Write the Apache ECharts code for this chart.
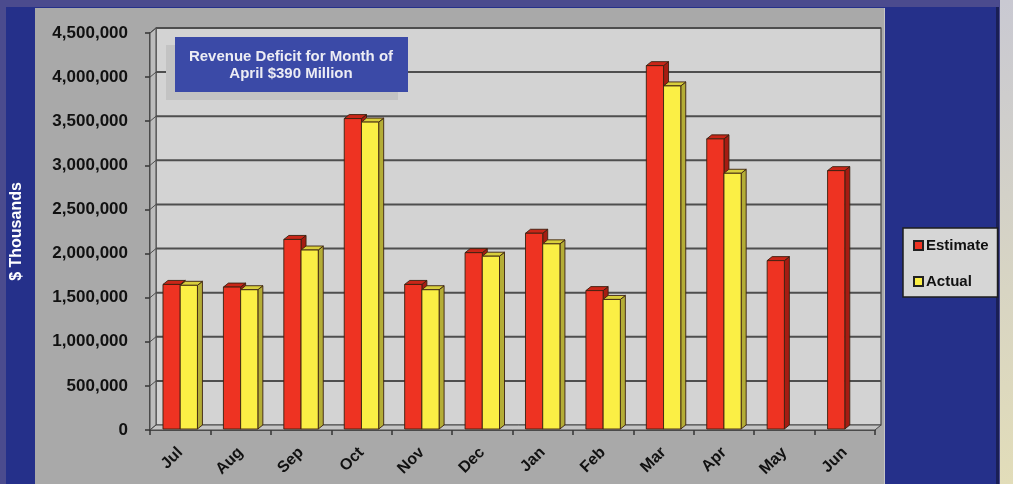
<!DOCTYPE html>
<html>
<head>
<meta charset="utf-8">
<title>Revenue Estimate vs Actual</title>
<script src="https://cdn.jsdelivr.net/npm/echarts@6/dist/echarts.min.js"></script>
<style>
  html, body { margin: 0; padding: 0; background: #4b4b8e; }
  #frame { position: absolute; left: 6px; top: 7px; width: 990px; height: 477px; background: #25308a; border-right: 3px solid #1a1f55; }
  #edge { position: absolute; left: 1000px; top: 0; width: 13px; height: 484px; background: linear-gradient(#c9c9d2, #e2ddb9); }
  #panel { position: absolute; left: 35px; top: 8px; width: 849px; height: 476px; background: #a9a9a9; border-right: 1px solid #c6c6c6; }
  #chart { position: absolute; left: 0; top: 0; width: 1013px; height: 484px; }
</style>
</head>
<body>
<div id="frame"></div>
<div id="edge"></div>
<div id="panel"></div>
<div id="chart"></div>
<script>
// Monthly revenue, $ thousands
const months = ['Jul', 'Aug', 'Sep', 'Oct', 'Nov', 'Dec', 'Jan', 'Feb', 'Mar', 'Apr', 'May', 'Jun'];
const estimate = [1650000, 1620000, 2160000, 3530000, 1650000, 2010000, 2230000, 1580000, 4130000, 3300000, 1920000, 2940000];
const actual = [1640000, 1590000, 2040000, 3490000, 1590000, 1970000, 2110000, 1480000, 3900000, 2910000, null, null];
const yTicks = [0, 500000, 1000000, 1500000, 2000000, 2500000, 3000000, 3500000, 4000000, 4500000];
const noteLines = ['Revenue Deficit for Month of', 'April $390 Million'];

const FONT = '"Liberation Sans", Arial, sans-serif';
const WALL_DX = 6, WALL_DY = -5;   // depth of the back wall
const BAR_DX = 5, BAR_DY = -4;     // depth of each column

const chart = echarts.init(document.getElementById('chart'));

// Back wall, floor, side wall and gridlines of the 3-D plot box
function renderWall(params, api) {
  const cs = params.coordSys;
  const x0 = cs.x, x1 = cs.x + cs.width;
  const yb = api.coord([0, 0])[1];
  const yt = api.coord([0, yTicks[yTicks.length - 1]])[1];
  const children = [
    { type: 'rect', shape: { x: x0 + WALL_DX, y: yt + WALL_DY, width: x1 - x0, height: yb - yt },
      style: { fill: '#d3d3d3', stroke: '#444', lineWidth: 1.2 } },
    { type: 'polygon', shape: { points: [[x0, yb], [x0, yt], [x0 + WALL_DX, yt + WALL_DY], [x0 + WALL_DX, yb + WALL_DY]] },
      style: { fill: '#bcbcbc', stroke: '#444', lineWidth: 1 } },
    { type: 'polygon', shape: { points: [[x0, yb], [x1, yb], [x1 + WALL_DX, yb + WALL_DY], [x0 + WALL_DX, yb + WALL_DY]] },
      style: { fill: '#c4c4c4', stroke: '#444', lineWidth: 1 } }
  ];
  yTicks.forEach(function (t) {
    if (t === 0) return;
    const y = api.coord([0, t])[1];
    children.push({ type: 'line', shape: { x1: x0 + WALL_DX, y1: y + WALL_DY, x2: x1 + WALL_DX, y2: y + WALL_DY },
      style: { stroke: '#4e4e4e', lineWidth: 2 } });
    children.push({ type: 'line', shape: { x1: x0, y1: y, x2: x0 + WALL_DX, y2: y + WALL_DY },
      style: { stroke: '#4e4e4e', lineWidth: 1 } });
  });
  return { type: 'group', children: children };
}

function makeColumn(front, top, side, leftOfCenter) {
  return function (params, api) {
    const i = api.value(0), v = api.value(1);
    const base = api.coord([i, 0]);
    const tip = api.coord([i, v]);
    const band = api.size([1, 0])[0];
    const w = band * 0.285;
    const x0 = leftOfCenter ? base[0] - w : base[0];
    const yT = tip[1], yB = base[1] - 1;
    const edge = { stroke: '#3a2010', lineWidth: 0.9 };
    return {
      type: 'group',
      children: [
        { type: 'polygon', shape: { points: [[x0 + w, yT], [x0 + w + BAR_DX, yT + BAR_DY], [x0 + w + BAR_DX, yB + BAR_DY], [x0 + w, yB]] },
          style: Object.assign({ fill: side }, edge) },
        { type: 'polygon', shape: { points: [[x0, yT], [x0 + w, yT], [x0 + w + BAR_DX, yT + BAR_DY], [x0 + BAR_DX, yT + BAR_DY]] },
          style: Object.assign({ fill: top }, edge) },
        { type: 'rect', shape: { x: x0, y: yT, width: w, height: yB - yT },
          style: Object.assign({ fill: front }, edge) }
      ]
    };
  };
}

function pairs(arr) {
  const out = [];
  arr.forEach(function (v, i) { if (v !== null) out.push([i, v]); });
  return out;
}

chart.setOption({
  animation: false,
  textStyle: { fontFamily: FONT },
  grid: { left: 150, right: 138, top: 33, bottom: 54, containLabel: false, outerBoundsMode: 'none' },
  legend: {
    data: ['Estimate', 'Actual'],
    orient: 'vertical',
    left: 903, top: 228,
    backgroundColor: '#d6d6d6',
    borderColor: '#1e1e1e', borderWidth: 1.5, borderRadius: 0,
    padding: [10, 9, 8, 10],
    itemGap: 21,
    itemWidth: 9, itemHeight: 9,
    icon: 'rect',
    textStyle: { fontFamily: FONT, fontWeight: 'bold', fontSize: 15, color: '#111', padding: [0, 0, 0, -2] }
  },
  xAxis: {
    type: 'category',
    data: months,
    axisLine: { show: true, lineStyle: { color: '#333', width: 1.5 } },
    axisTick: { show: true, length: 5, lineStyle: { color: '#333', width: 1.5 } },
    axisLabel: { rotate: 45, margin: 20, fontFamily: FONT, fontWeight: 'bold', fontSize: 16, color: '#111' },
    splitLine: { show: false }
  },
  yAxis: {
    type: 'value',
    min: 0, max: 4500000, interval: 500000,
    name: '$ Thousands',
    nameLocation: 'middle',
    nameRotate: 90,
    nameGap: 125,
    nameTextStyle: { fontFamily: FONT, fontWeight: 'bold', fontSize: 16, color: '#ffffff' },
    axisLine: { show: true, lineStyle: { color: '#333', width: 1.5 } },
    axisTick: { show: true, length: 5, lineStyle: { color: '#333', width: 1.5 } },
    axisLabel: {
      margin: 22, fontFamily: FONT, fontWeight: 'bold', fontSize: 17, color: '#111',
      formatter: function (v) { return v.toLocaleString('en-US'); }
    },
    splitLine: { show: false }
  },
  graphic: [
    { type: 'rect', z: 100, shape: { x: 166, y: 45, width: 232, height: 55 }, style: { fill: '#c3c3c3' } },
    { type: 'rect', z: 101, shape: { x: 175, y: 37, width: 233, height: 55 }, style: { fill: '#3b4aa7' } },
    { type: 'text', z: 102, x: 291, y: 57, style: { text: noteLines[0], fill: '#ececf4', font: 'bold 15px ' + FONT, textAlign: 'center', textVerticalAlign: 'middle' } },
    { type: 'text', z: 102, x: 291, y: 74, style: { text: noteLines[1], fill: '#ececf4', font: 'bold 15px ' + FONT, textAlign: 'center', textVerticalAlign: 'middle' } }
  ],
  series: [
    { name: 'wall', type: 'custom', data: [[0, 0]], renderItem: renderWall, silent: true, z: 1 },
    { name: 'Estimate', type: 'custom', data: pairs(estimate), z: 2,
      itemStyle: { color: '#ee3322', borderColor: '#222', borderWidth: 1 },
      renderItem: makeColumn('#ee3322', '#c92618', '#a51c12', true) },
    { name: 'Actual', type: 'custom', data: pairs(actual), z: 3,
      itemStyle: { color: '#fbef45', borderColor: '#222', borderWidth: 1 },
      renderItem: makeColumn('#fbef45', '#d9cf3c', '#b4ad36', false) }
  ]
});
</script>
</body>
</html>
